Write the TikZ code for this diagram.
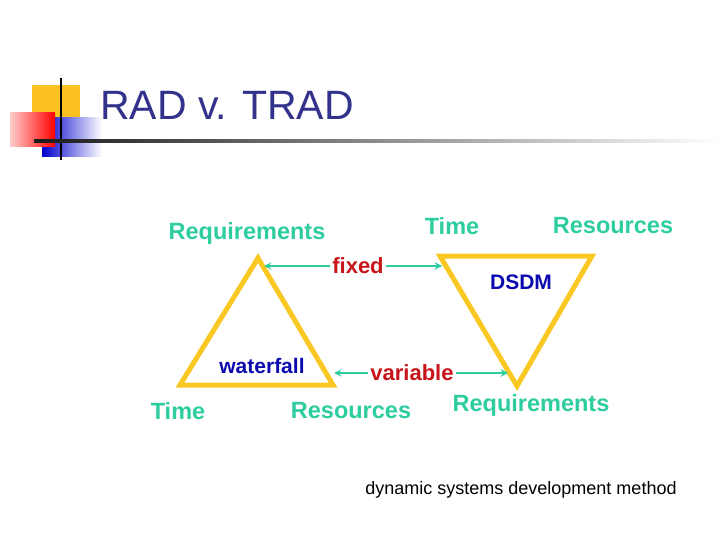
\documentclass[tikz,border=0pt]{standalone}
\usepackage{fontspec}
\setmainfont{Liberation Sans}
\begin{document}
\begin{tikzpicture}[x=1pt,y=-1pt,
  lab/.style={text=teal1,font=\bfseries\fontsize{23.5}{25}\selectfont,inner sep=0pt},
  red/.style={text=red1,font=\bfseries\fontsize{22}{24}\selectfont,inner sep=0pt},
  blu/.style={text=blue1,font=\bfseries\fontsize{21}{23}\selectfont,inner sep=0pt},
  tri/.style={draw=gold1,line width=5pt,line join=miter},
  arr/.style={draw=teal1,line width=2.2pt,-stealth}]
\definecolor{teal1}{RGB}{45,205,160}
\definecolor{red1}{RGB}{200,20,25}
\definecolor{blue1}{RGB}{10,10,175}
\definecolor{gold1}{RGB}{250,200,35}
\definecolor{title1}{RGB}{50,50,140}
\useasboundingbox (0,0) rectangle (720,540);
\fill[white] (0,0) rectangle (720,540);
% logo
\fill[gold1!90!orange] (32,85) rectangle (80,117);
\shade[left color=blue!80!black,right color=white] (42,118) rectangle (102,157);
\shade[left color=red!20,right color=red] (10,113) rectangle (55,147);
\draw[black,line width=2pt] (61,78) -- (61,160);
\shade[left color=black!90,right color=white] (34,140) rectangle (720,142.5);
\node[anchor=base west,text=title1,font=\fontsize{41}{43}\selectfont,inner sep=0pt] (title) at (100,120) {RAD v. TRAD};
% triangles
\draw[tri] (258,258) -- (180,385) -- (333,385) -- cycle;
\draw[tri] (440,256) -- (592,256) -- (517,386) -- cycle;
\coordinate (lt) at (264,266);
\coordinate (rt) at (442,266);
\coordinate (lb) at (334,373);
\coordinate (rb) at (508,373);
\node[red] (fixed) at (358,266) {fixed};
\node[red] (var) at (412,373) {variable};
\draw[arr] (fixed.west) ++(-2,0) -- (lt);
\draw[arr] (fixed.east) ++(2,0) -- (rt);
\draw[arr] (var.west) ++(-2,0) -- (lb);
\draw[arr] (var.east) ++(2,0) -- (rb);
\node[blu] (wf) at (262,366) {waterfall};
\node[blu] (dsdm) at (521,282) {DSDM};
\node[lab] (req1) at (247,233) {Requirements};
\node[lab] (time1) at (178,411) {Time};
\node[lab] (res1) at (351,411) {Resources};
\node[lab] (time2) at (452,226) {Time};
\node[lab] (res2) at (613,226) {Resources};
\node[lab] (req2) at (531,405) {Requirements};
\node[inner sep=0pt,font=\fontsize{18}{20}\selectfont] (note) at (521,490) {dynamic systems development method};
\end{tikzpicture}
\end{document}
